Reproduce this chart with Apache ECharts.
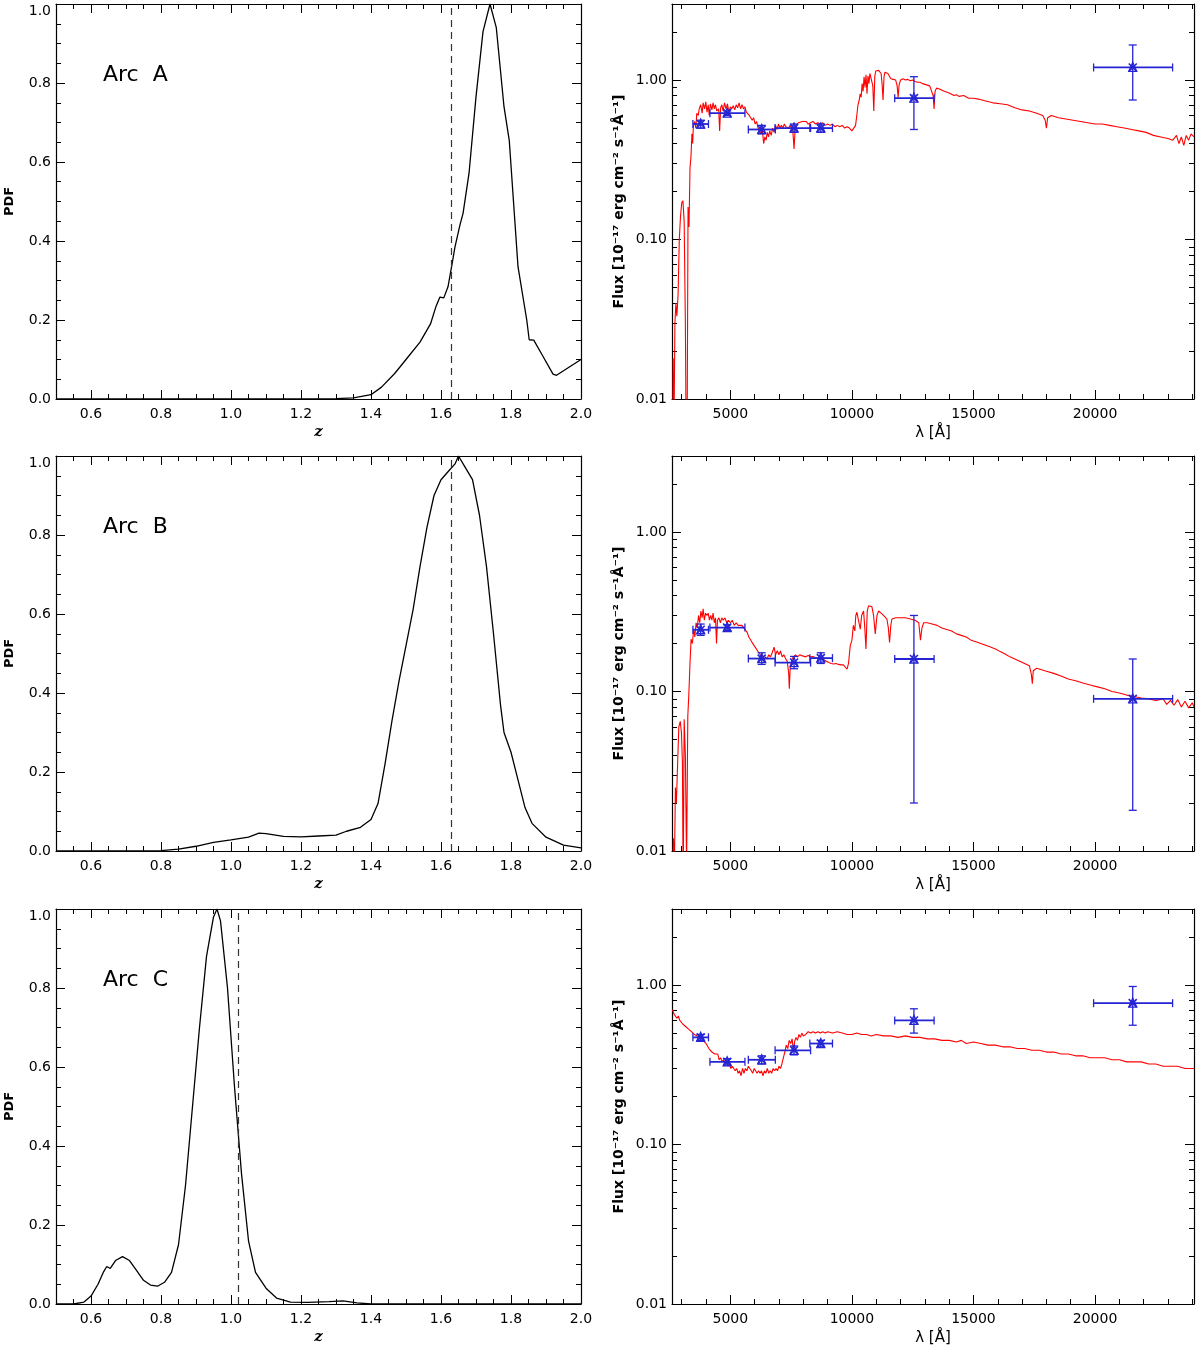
<!DOCTYPE html>
<html lang="en">
  <head>
    <meta charset="UTF-8" />
    <title>Arc photo-z PDFs and SED fits</title>
    <script src="https://cdn.jsdelivr.net/npm/echarts@6.0.0/dist/echarts.min.js"></script>
    <style>
      body { margin: 0; padding: 0; background: #fff; }
      #main { width: 1200px; height: 1352px; }
    </style>
  </head>
  <body>
    <div id="main"></div>
    <script>
      // ---- redshift PDFs, [z, PDF] ----
      const pdfArcA = [[0.50,0],[1.25,0],[1.30,0.001],[1.35,0.003],[1.40,0.011],[1.43,0.03],[1.467,0.064],[1.50,0.10],[1.54,0.144],[1.57,0.19],[1.586,0.235],[1.597,0.258],[1.608,0.256],[1.62,0.284],[1.63,0.334],[1.64,0.385],[1.654,0.44],[1.663,0.47],[1.68,0.571],[1.70,0.765],[1.72,0.93],[1.74,1.0],[1.758,0.94],[1.78,0.74],[1.795,0.655],[1.82,0.335],[1.845,0.20],[1.852,0.15],[1.865,0.149],[1.89,0.11],[1.92,0.063],[1.93,0.06],[1.97,0.083],[2.0,0.10]];
      const pdfArcB = [[0.50,0],[0.75,0],[0.80,0.001],[0.85,0.005],[0.90,0.012],[0.95,0.022],[1.00,0.028],[1.05,0.035],[1.08,0.045],[1.10,0.044],[1.15,0.037],[1.20,0.036],[1.25,0.038],[1.30,0.04],[1.33,0.05],[1.37,0.06],[1.40,0.08],[1.42,0.12],[1.44,0.22],[1.46,0.33],[1.48,0.43],[1.50,0.52],[1.52,0.61],[1.54,0.72],[1.56,0.82],[1.58,0.90],[1.60,0.94],[1.62,0.96],[1.64,0.98],[1.65,1.0],[1.67,0.97],[1.69,0.94],[1.71,0.85],[1.73,0.72],[1.75,0.55],[1.77,0.37],[1.78,0.30],[1.80,0.25],[1.82,0.18],[1.84,0.11],[1.86,0.07],[1.90,0.035],[1.95,0.015],[2.00,0.008]];
      const pdfArcC = [[0.50,0],[0.55,0],[0.58,0.005],[0.60,0.02],[0.62,0.05],[0.635,0.08],[0.645,0.095],[0.655,0.09],[0.67,0.11],[0.69,0.12],[0.71,0.11],[0.73,0.085],[0.75,0.06],[0.77,0.048],[0.79,0.045],[0.81,0.055],[0.83,0.08],[0.85,0.15],[0.87,0.30],[0.89,0.50],[0.91,0.70],[0.93,0.88],[0.95,0.98],[0.96,1.0],[0.97,0.97],[0.99,0.80],[1.01,0.55],[1.03,0.33],[1.05,0.16],[1.07,0.08],[1.10,0.04],[1.13,0.015],[1.17,0.005],[1.22,0.004],[1.28,0.006],[1.32,0.008],[1.36,0.003],[1.40,0],[2.0,0]];
      const specZ = [1.63, 1.63, 1.02];
      const arcNames = ["Arc  A", "Arc  B", "Arc  C"];

      // ---- best-fit SEDs, [lambda (A), flux] ----
      const sedArcA = [[2620,0.004],[2650,0.018],[2680,0.006],[2720,0.03],[2760,0.04],[2800,0.033],[2850,0.045],[2900,0.10],[2950,0.14],[3000,0.17],[3050,0.175],[3100,0.13],[3150,0.03],[3180,0.006],[3220,0.005],[3260,0.16],[3300,0.12],[3340,0.28],[3380,0.33],[3420,0.46],[3450,0.40],[3480,0.52],[3530,0.55],[3580,0.50],[3620,0.62],[3680,0.60],[3720,0.66],[3780,0.70],[3840,0.62],[3880,0.72],[3940,0.66],[3990,0.73],[4040,0.63],[4090,0.70],[4130,0.60],[4180,0.71],[4240,0.65],[4290,0.72],[4340,0.66],[4390,0.70],[4440,0.64],[4520,0.66],[4560,0.48],[4600,0.67],[4650,0.70],[4700,0.64],[4760,0.72],[4820,0.66],[4880,0.71],[4940,0.63],[5000,0.68],[5060,0.66],[5120,0.69],[5180,0.65],[5240,0.70],[5300,0.67],[5360,0.72],[5420,0.66],[5480,0.70],[5540,0.66],[5600,0.68],[5660,0.63],[5720,0.64],[5780,0.60],[5840,0.61],[5900,0.56],[5960,0.58],[6020,0.53],[6080,0.55],[6140,0.50],[6200,0.49],[6260,0.46],[6320,0.48],[6370,0.40],[6420,0.44],[6470,0.42],[6520,0.47],[6570,0.44],[6620,0.48],[6680,0.45],[6740,0.50],[6800,0.47],[6860,0.52],[6920,0.49],[6980,0.53],[7040,0.50],[7100,0.52],[7160,0.50],[7220,0.53],[7280,0.51],[7340,0.52],[7400,0.50],[7460,0.52],[7520,0.51],[7570,0.48],[7620,0.37],[7660,0.48],[7720,0.52],[7800,0.54],[7880,0.53],[7960,0.55],[8040,0.54],[8120,0.55],[8200,0.53],[8300,0.54],[8400,0.55],[8500,0.53],[8600,0.54],[8700,0.53],[8800,0.54],[8900,0.52],[9000,0.53],[9100,0.52],[9200,0.53],[9300,0.51],[9400,0.52],[9500,0.51],[9600,0.52],[9700,0.50],[9800,0.51],[9900,0.50],[10000,0.48],[10080,0.47],[10150,0.52],[10200,0.60],[10250,0.70],[10300,0.75],[10340,0.82],[10380,0.78],[10420,0.95],[10460,0.85],[10500,1.05],[10540,0.90],[10580,1.08],[10620,0.82],[10660,1.06],[10700,0.95],[10740,1.10],[10820,1.10],[10860,0.92],[10900,0.64],[10940,1.05],[10980,1.14],[11020,1.16],[11060,1.17],[11100,1.15],[11150,1.13],[11200,1.10],[11240,0.95],[11280,0.75],[11320,1.05],[11360,1.12],[11420,1.13],[11480,1.10],[11540,1.08],[11600,1.02],[11650,1.00],[11700,1.01],[11760,1.02],[11800,1.0],[11860,0.92],[11900,0.78],[11940,0.93],[12000,1.0],[12100,1.02],[12200,1.0],[12300,1.01],[12400,0.99],[12500,1.0],[12600,0.98],[12700,0.97],[12800,0.97],[12900,0.95],[13000,0.94],[13100,0.93],[13200,0.92],[13280,0.90],[13340,0.80],[13380,0.66],[13420,0.85],[13480,0.89],[13600,0.88],[13800,0.85],[14000,0.83],[14200,0.80],[14300,0.81],[14400,0.79],[14600,0.80],[14800,0.77],[15000,0.77],[15200,0.76],[15500,0.74],[15800,0.72],[16100,0.71],[16400,0.70],[16700,0.67],[17000,0.65],[17300,0.64],[17600,0.62],[17850,0.60],[17950,0.56],[18000,0.50],[18050,0.58],[18200,0.60],[18500,0.58],[18800,0.57],[19100,0.56],[19400,0.55],[19700,0.54],[20000,0.53],[20300,0.53],[20600,0.52],[20900,0.51],[21200,0.50],[21500,0.49],[21800,0.48],[22100,0.47],[22400,0.45],[22700,0.44],[23000,0.43],[23200,0.42],[23350,0.45],[23450,0.40],[23550,0.44],[23650,0.39],[23750,0.45],[23850,0.42],[23950,0.46],[24070,0.44]];
      const sedArcB = [[2620,0.005],[2660,0.012],[2700,0.008],[2740,0.025],[2780,0.02],[2830,0.035],[2880,0.06],[2940,0.065],[2990,0.055],[3030,0.035],[3060,0.005],[3100,0.067],[3150,0.04],[3200,0.008],[3250,0.07],[3290,0.094],[3340,0.15],[3385,0.213],[3440,0.20],[3490,0.246],[3540,0.22],[3590,0.27],[3640,0.25],[3690,0.30],[3740,0.27],[3790,0.32],[3840,0.29],[3880,0.33],[3930,0.28],[3980,0.31],[4040,0.30],[4090,0.31],[4140,0.28],[4190,0.30],[4240,0.28],[4290,0.31],[4340,0.27],[4390,0.29],[4430,0.20],[4470,0.28],[4530,0.29],[4590,0.27],[4650,0.29],[4710,0.28],[4780,0.29],[4850,0.27],[4920,0.28],[5000,0.27],[5080,0.28],[5160,0.26],[5240,0.27],[5320,0.26],[5400,0.265],[5480,0.26],[5560,0.25],[5620,0.245],[5690,0.235],[5760,0.22],[5820,0.22],[5880,0.205],[5950,0.20],[6020,0.19],[6100,0.19],[6170,0.175],[6230,0.17],[6300,0.165],[6380,0.155],[6440,0.165],[6510,0.16],[6580,0.17],[6650,0.165],[6720,0.175],[6800,0.19],[6860,0.17],[6930,0.18],[7000,0.17],[7060,0.18],[7130,0.165],[7200,0.17],[7280,0.16],[7340,0.155],[7400,0.13],[7425,0.104],[7460,0.14],[7535,0.16],[7600,0.165],[7680,0.17],[7760,0.165],[7850,0.17],[7940,0.168],[8013,0.169],[8100,0.165],[8200,0.168],[8300,0.165],[8400,0.166],[8500,0.163],[8563,0.164],[8650,0.16],[8750,0.162],[8850,0.158],[8950,0.155],[9050,0.152],[9150,0.15],[9245,0.149],[9350,0.15],[9450,0.148],[9550,0.147],[9650,0.147],[9727,0.147],[9800,0.138],[9860,0.15],[9932,0.194],[10000,0.21],[10060,0.26],[10120,0.24],[10160,0.30],[10206,0.314],[10270,0.28],[10343,0.246],[10400,0.30],[10479,0.32],[10530,0.25],[10577,0.185],[10630,0.32],[10684,0.345],[10750,0.34],[10824,0.34],[10890,0.30],[10960,0.23],[11030,0.30],[11096,0.32],[11200,0.31],[11300,0.30],[11439,0.285],[11500,0.25],[11548,0.203],[11600,0.26],[11645,0.285],[11800,0.29],[11987,0.29],[12200,0.29],[12400,0.285],[12600,0.28],[12750,0.27],[12820,0.21],[12880,0.25],[12950,0.27],[13100,0.27],[13300,0.265],[13500,0.26],[13700,0.25],[13900,0.245],[14100,0.24],[14300,0.23],[14500,0.225],[14700,0.22],[14900,0.21],[15100,0.205],[15300,0.20],[15500,0.195],[15700,0.19],[15900,0.185],[16100,0.178],[16300,0.172],[16500,0.165],[16700,0.16],[16900,0.155],[17100,0.15],[17300,0.145],[17380,0.128],[17420,0.112],[17460,0.135],[17600,0.14],[17800,0.137],[18000,0.134],[18300,0.13],[18600,0.125],[18900,0.12],[19200,0.117],[19500,0.113],[19800,0.11],[20100,0.107],[20400,0.104],[20700,0.10],[21000,0.098],[21300,0.095],[21600,0.093],[21900,0.091],[22200,0.09],[22500,0.088],[22800,0.09],[22950,0.083],[23100,0.088],[23250,0.082],[23400,0.089],[23550,0.08],[23700,0.087],[23850,0.079],[24000,0.085],[24070,0.08]];
      const sedArcC = [[2620,0.70],[2680,0.66],[2740,0.67],[2800,0.62],[2860,0.64],[2920,0.60],[2980,0.61],[3040,0.57],[3100,0.58],[3160,0.55],[3220,0.56],[3280,0.53],[3340,0.54],[3400,0.51],[3460,0.52],[3520,0.49],[3580,0.50],[3640,0.48],[3700,0.48],[3760,0.47],[3820,0.46],[3880,0.45],[3940,0.44],[4000,0.43],[4060,0.42],[4120,0.40],[4180,0.41],[4240,0.38],[4300,0.39],[4360,0.37],[4420,0.36],[4480,0.37],[4540,0.34],[4600,0.35],[4660,0.33],[4720,0.34],[4780,0.32],[4840,0.33],[4900,0.31],[4960,0.32],[5020,0.30],[5080,0.31],[5140,0.30],[5200,0.29],[5260,0.30],[5320,0.28],[5380,0.29],[5440,0.27],[5500,0.30],[5560,0.28],[5620,0.30],[5680,0.29],[5740,0.31],[5800,0.30],[5860,0.29],[5920,0.28],[5980,0.30],[6040,0.29],[6100,0.28],[6160,0.29],[6220,0.28],[6280,0.29],[6340,0.27],[6400,0.29],[6460,0.28],[6520,0.30],[6580,0.28],[6640,0.29],[6700,0.28],[6760,0.30],[6820,0.29],[6880,0.30],[6940,0.29],[7000,0.31],[7060,0.30],[7120,0.32],[7180,0.35],[7240,0.38],[7300,0.42],[7360,0.40],[7420,0.45],[7480,0.43],[7540,0.46],[7600,0.38],[7640,0.44],[7700,0.47],[7760,0.45],[7820,0.49],[7880,0.47],[7940,0.50],[8000,0.48],[8100,0.49],[8200,0.51],[8300,0.50],[8400,0.51],[8500,0.50],[8600,0.51],[8700,0.50],[8800,0.51],[8900,0.50],[9000,0.51],[9200,0.50],[9400,0.51],[9600,0.50],[9800,0.49],[10000,0.49],[10200,0.50],[10400,0.49],[10600,0.49],[10800,0.48],[11000,0.49],[11300,0.48],[11600,0.48],[11900,0.47],[12200,0.48],[12500,0.47],[12800,0.47],[13100,0.46],[13400,0.46],[13700,0.45],[14000,0.45],[14300,0.44],[14500,0.45],[14700,0.43],[15000,0.44],[15300,0.43],[15600,0.42],[15900,0.42],[16200,0.41],[16500,0.41],[16800,0.40],[17100,0.40],[17400,0.39],[17700,0.39],[18000,0.38],[18300,0.38],[18600,0.37],[18900,0.37],[19200,0.36],[19500,0.36],[19800,0.35],[20100,0.35],[20400,0.35],[20700,0.34],[21000,0.34],[21300,0.33],[21600,0.33],[21900,0.33],[22200,0.32],[22500,0.32],[22800,0.31],[23100,0.31],[23400,0.31],[23700,0.30],[24070,0.30]];

      // ---- photometry: filter centres and widths (A), fluxes and flux errors ----
      const photLambda = [3780, 4870, 6290, 7620, 8720, 12550, 21550];
      const photLamLo = [3460, 4160, 5740, 6840, 8270, 11760, 19940];
      const photLamHi = [4100, 5600, 6850, 8300, 9200, 13380, 23190];
      const photFluxA = [0.53, 0.62, 0.49, 0.50, 0.50, 0.77, 1.20];
      const photLowA = [0.50, 0.60, 0.46, 0.47, 0.47, 0.49, 0.75];
      const photHighA = [0.56, 0.64, 0.52, 0.53, 0.53, 1.05, 1.66];
      const photFluxB = [0.244, 0.252, 0.161, 0.152, 0.162, 0.16, 0.09];
      const photLowB = [0.225, 0.242, 0.148, 0.139, 0.150, 0.02, 0.018];
      const photHighB = [0.265, 0.262, 0.175, 0.166, 0.175, 0.30, 0.16];
      const photFluxC = [0.47, 0.33, 0.34, 0.39, 0.43, 0.60, 0.77];
      const photLowC = [0.45, 0.315, 0.32, 0.365, 0.41, 0.50, 0.56];
      const photHighC = [0.49, 0.345, 0.36, 0.415, 0.45, 0.71, 0.98];

      const pdfs = [pdfArcA, pdfArcB, pdfArcC];
      const seds = [sedArcA, sedArcB, sedArcC];
      const phot = [
        [photFluxA, photLowA, photHighA],
        [photFluxB, photLowB, photHighB],
        [photFluxC, photLowC, photHighC],
      ];

      const FONT = "DejaVu Sans";
      const ROW_TOP = [4, 456, 909];
      const ROW_H = 395;
      const BLUE = "#2424d4";

      const lineStyle = { color: "#000", width: 1.2 };
      const tickStyle = { color: "#000", width: 1 };

      // box-style axis: ticks pointing inwards, labels only on bottom/left
      function frameAxis(extra, withLabels) {
        const base = {
          axisLine: { show: true, onZero: false, lineStyle: lineStyle },
          axisTick: { show: true, inside: true, length: 9, lineStyle: tickStyle },
          minorTick: { show: true, length: 5, lineStyle: tickStyle },
          splitLine: { show: false },
          minorSplitLine: { show: false },
          axisLabel: { show: withLabels, color: "#000", fontFamily: FONT, fontSize: 14 },
        };
        const ax = Object.assign({}, base, extra);
        ax.minorTick = Object.assign({}, base.minorTick, extra.minorTick || {});
        ax.axisLabel = Object.assign({}, base.axisLabel, extra.axisLabel || {});
        return ax;
      }

      // error bars plus the x/triangle marker, all through api.coord
      function renderPhot(params, api) {
        const lam = api.value(0), f = api.value(1);
        const c = api.coord([lam, f]);
        const l = api.coord([api.value(2), f]);
        const r = api.coord([api.value(3), f]);
        const b = api.coord([lam, api.value(4)]);
        const t = api.coord([lam, api.value(5)]);
        const cap = 4, m = 4;
        const st = { stroke: BLUE, lineWidth: 1.3, fill: null };
        const seg = (x1, y1, x2, y2, w) => ({
          type: "line",
          shape: { x1: x1, y1: y1, x2: x2, y2: y2 },
          style: Object.assign({}, st, w ? { lineWidth: w } : {}),
        });
        return {
          type: "group",
          children: [
            seg(l[0], l[1], r[0], r[1], 1.8),
            seg(l[0], l[1] - cap, l[0], l[1] + cap),
            seg(r[0], r[1] - cap, r[0], r[1] + cap),
            seg(b[0], b[1], t[0], t[1]),
            seg(b[0] - cap, b[1], b[0] + cap, b[1]),
            seg(t[0] - cap, t[1], t[0] + cap, t[1]),
            seg(c[0] - m, c[1] - m, c[0] + m, c[1] + m, 1.6),
            seg(c[0] - m, c[1] + m, c[0] + m, c[1] - m, 1.6),
            {
              type: "polygon",
              shape: { points: [[c[0], c[1] - m - 1], [c[0] - m, c[1] + m], [c[0] + m, c[1] + m]] },
              style: st,
            },
          ],
        };
      }

      const grids = [], xAxes = [], yAxes = [], series = [], titles = [];

      for (let r = 0; r < 3; r++) {
        // ---- left: PDF(z) ----
        let g = grids.length;
        grids.push({ left: 56, width: 525, top: ROW_TOP[r], height: ROW_H });
        const zBase = {
          gridIndex: g, type: "value", min: 0.5, max: 2.0, splitNumber: 7,
          minorTick: { splitNumber: 4 },
        };
        xAxes.push(frameAxis(Object.assign({}, zBase, {
          position: "bottom",
          name: "z", nameLocation: "middle", nameGap: 26,
          nameTextStyle: { fontFamily: "DejaVu Serif", fontStyle: "italic", fontWeight: "bold", fontSize: 15, color: "#000" },
          axisLabel: { margin: 8, showMinLabel: false, formatter: (v) => v.toFixed(1) },
        }), true));
        xAxes.push(frameAxis(Object.assign({}, zBase, { position: "top" }), false));
        const pBase = {
          gridIndex: g, type: "value", min: 0, max: 1, interval: 0.2,
          minorTick: { splitNumber: 4 },
        };
        yAxes.push(frameAxis(Object.assign({}, pBase, {
          position: "left",
          name: "PDF", nameLocation: "middle", nameGap: 40,
          nameTextStyle: { fontFamily: FONT, fontWeight: "bold", fontSize: 13, color: "#000" },
          axisLabel: { margin: 5, verticalAlignMaxLabel: "top", formatter: (v) => v.toFixed(1) },
        }), true));
        yAxes.push(frameAxis(Object.assign({}, pBase, { position: "right" }), false));

        series.push({
          type: "line",
          xAxisIndex: 2 * g, yAxisIndex: 2 * g,
          data: pdfs[r],
          showSymbol: false,
          lineStyle: { color: "#000", width: 1.3 },
          markLine: {
            silent: true, symbol: "none", label: { show: false },
            lineStyle: { color: "#333", width: 1.2, type: [7, 5] },
            data: [{ xAxis: specZ[r] }],
          },
        });
        titles.push({
          text: arcNames[r], left: 103, top: ROW_TOP[r] + 60, padding: 0,
          textStyle: { fontFamily: FONT, fontSize: 22, fontWeight: "normal", color: "#000" },
        });

        // ---- right: SED ----
        g = grids.length;
        grids.push({ left: 672, width: 522, top: ROW_TOP[r], height: ROW_H });
        const lBase = {
          gridIndex: g, type: "value", min: 2600, max: 24070, splitNumber: 5,
          minorTick: { splitNumber: 5 },
        };
        xAxes.push(frameAxis(Object.assign({}, lBase, {
          position: "bottom",
          name: "λ [Å]", nameLocation: "middle", nameGap: 27,
          nameTextStyle: { fontFamily: FONT, fontSize: 15, color: "#000" },
          axisLabel: { margin: 8, showMinLabel: false, showMaxLabel: false, formatter: (v) => String(v) },
        }), true));
        xAxes.push(frameAxis(Object.assign({}, lBase, { position: "top" }), false));
        const fBase = {
          gridIndex: g, type: "log", logBase: 10, min: 0.01, max: 3,
          minorTick: { splitNumber: 9 },
        };
        yAxes.push(frameAxis(Object.assign({}, fBase, {
          position: "left",
          name: "Flux [10⁻¹⁷ erg cm⁻² s⁻¹Å⁻¹]", nameLocation: "middle", nameGap: 46,
          nameTextStyle: { fontFamily: FONT, fontWeight: "bold", fontSize: 14, color: "#000" },
          axisLabel: { margin: 5, showMaxLabel: false, formatter: (v) => v.toFixed(2) },
        }), true));
        yAxes.push(frameAxis(Object.assign({}, fBase, { position: "right" }), false));

        series.push({
          type: "line",
          xAxisIndex: 2 * g, yAxisIndex: 2 * g,
          data: seds[r],
          showSymbol: false,
          lineStyle: { color: "#ff0000", width: 1.1 },
        });
        const [fl, lo, hi] = phot[r];
        series.push({
          type: "custom",
          xAxisIndex: 2 * g, yAxisIndex: 2 * g,
          renderItem: renderPhot,
          encode: { x: 0, y: 1 },
          z: 5,
          data: photLambda.map((lam, i) => [lam, fl[i], photLamLo[i], photLamHi[i], lo[i], hi[i]]),
        });
      }

      const chart = echarts.init(document.getElementById("main"));
      chart.setOption({
        animation: false,
        backgroundColor: "#fff",
        title: titles,
        grid: grids,
        xAxis: xAxes,
        yAxis: yAxes,
        series: series,
      });
    </script>
  </body>
</html>
